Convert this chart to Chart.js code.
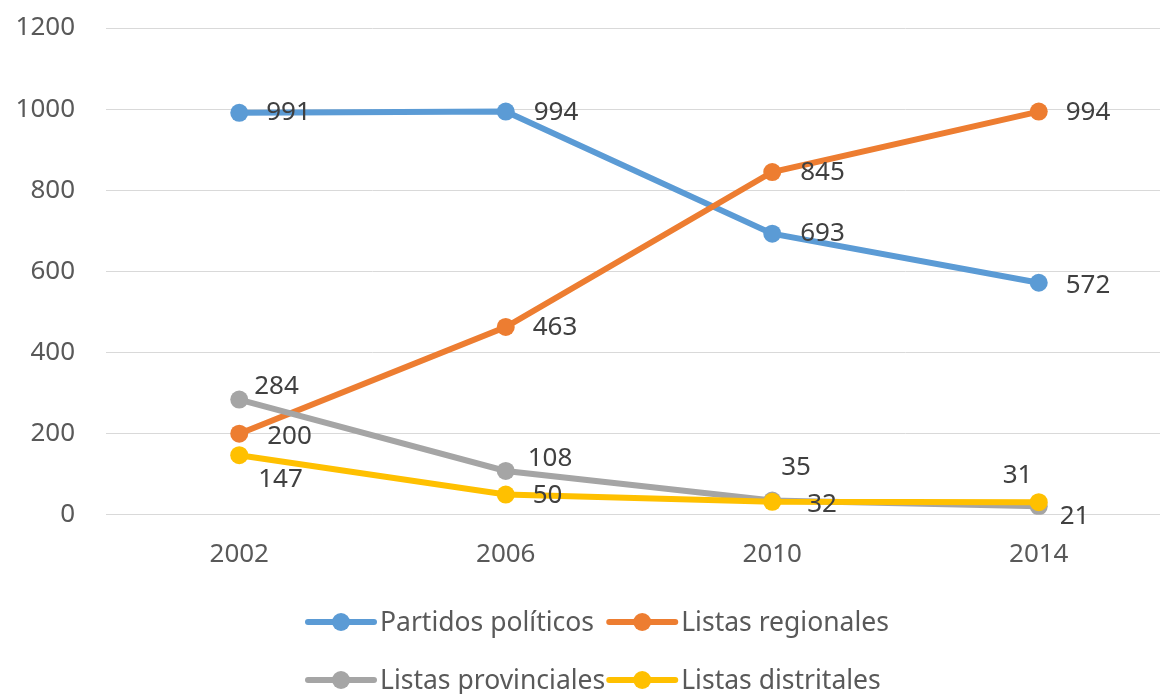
<!DOCTYPE html>
<html>
<head>
<meta charset="utf-8">
<script src="https://cdn.jsdelivr.net/npm/chart.js@4.4.1/dist/chart.umd.min.js"></script>
<style>
  html, body { margin: 0; padding: 0; background: #fff; overflow: hidden; }
  #myChart { display: block; }
</style>
</head>
<body>
<canvas id="myChart" width="1172" height="694"></canvas>
<script>
// chart data
const years = ['2002', '2006', '2010', '2014'];
const seriesNames = ['Partidos políticos', 'Listas regionales', 'Listas provinciales', 'Listas distritales'];
const partidos = [991, 994, 693, 572];
const regionales = [200, 463, 845, 994];
const provinciales = [284, 108, 35, 21];
const distritales = [147, 50, 32, 31];
const yTicks = [0, 200, 400, 600, 800, 1000, 1200];

const colors = ['#5B9BD5', '#ED7D31', '#A5A5A5', '#FFC000'];
// where each value label sits relative to its point (dx to text start, dy to text middle)
const labelOffsets = [
    [[27, 0], [28, 1], [28, 0], [27, 3]],
    [[28, 3], [27, 1], [28, 1], [27, 1]],
    [[15, -13], [22, -12], [9, -33], [21, 10]],
    [[19, 24], [27, 1], [35, 3], [-36, -27]]
];
const FONT = '"Noto Sans", "Open Sans", sans-serif';

const allValues = [partidos, regionales, provinciales, distritales];
var datasets = [];
for (let i = 0; i < allValues.length; i++) {
    datasets.push({
        label: seriesNames[i],
        data: allValues[i],
        borderColor: colors[i],
        backgroundColor: colors[i],
        borderWidth: 6,
        pointRadius: 9,
        pointHoverRadius: 9,
        pointBorderWidth: 0,
        tension: 0,
        order: allValues.length - 1 - i
    });
}

//draws the value next to each point
const valueLabels = {
    id: 'valueLabels',
    afterDatasetsDraw(chart) {
        const ctx = chart.ctx;
        ctx.save();
        ctx.font = '26px ' + FONT;
        ctx.fillStyle = '#404040';
        ctx.textAlign = 'left';
        ctx.textBaseline = 'middle';
        chart.data.datasets.forEach(function (ds, d) {
            const meta = chart.getDatasetMeta(d);
            meta.data.forEach(function (pt, i) {
                const off = labelOffsets[d][i];
                ctx.fillText(String(ds.data[i]), pt.x + off[0], pt.y + off[1]);
            });
        });
        ctx.restore();
    }
};

//legend in two rows, two columns
const gridLegend = {
    id: 'gridLegend',
    afterDraw(chart) {
        const ctx = chart.ctx;
        ctx.save();
        ctx.font = '26.5px ' + FONT;
        ctx.textBaseline = 'middle';
        ctx.textAlign = 'left';
        const markerW = 72;
        const startX = 305;
        const rowsY = [622, 680];
        var colW = 0;
        [0, 2].forEach(function (i) {
            colW = Math.max(colW, ctx.measureText(seriesNames[i]).width);
        });
        const col2X = startX + markerW + 3 + colW + 1;
        for (let i = 0; i < seriesNames.length; i++) {
            const x = (i % 2 === 0) ? startX : col2X;
            const y = rowsY[Math.floor(i / 2)];
            ctx.strokeStyle = colors[i];
            ctx.lineWidth = 6;
            ctx.lineCap = 'round';
            ctx.beginPath();
            ctx.moveTo(x + 3, y);
            ctx.lineTo(x + markerW - 3, y);
            ctx.stroke();
            ctx.fillStyle = colors[i];
            ctx.beginPath();
            ctx.arc(x + markerW / 2, y, 9, 0, Math.PI * 2);
            ctx.fill();
            ctx.fillStyle = '#595959';
            ctx.fillText(seriesNames[i], x + markerW + 3, y + 1);
        }
        ctx.restore();
    }
};

const ctx = document.getElementById('myChart');
const chart = new Chart(ctx, {
    type: 'line',
    data: {
        labels: years,
        datasets: datasets
    },
    options: {
        responsive: false,
        animation: false,
        layout: {
            autoPadding: false,
            padding: { top: 28, right: 0, bottom: 100, left: 0 }
        },
        plugins: {
            legend: { display: false },
            tooltip: { enabled: false }
        },
        scales: {
            x: {
                offset: true,
                grid: { display: false, drawTicks: false },
                border: { display: true, color: '#d9d9d9', width: 1 },
                ticks: {
                    color: '#595959',
                    padding: 24,
                    font: { family: FONT, size: 26 }
                }
            },
            y: {
                min: 0,
                max: 1200,
                afterFit: function (scale) {
                    scale.width = 106;
                    scale.paddingTop = 0;
                    scale.paddingBottom = 0;
                },
                afterBuildTicks: function (scale) {
                    scale.ticks = yTicks.map(v => ({ value: v }));
                },
                grid: { color: '#d9d9d9', lineWidth: 1, drawTicks: false },
                border: { display: false },
                ticks: {
                    color: '#595959',
                    padding: 31,
                    font: { family: FONT, size: 26 },
                    callback: function (value) { return String(value); }
                }
            }
        }
    },
    plugins: [valueLabels, gridLegend]
});
</script>
</body>
</html>
